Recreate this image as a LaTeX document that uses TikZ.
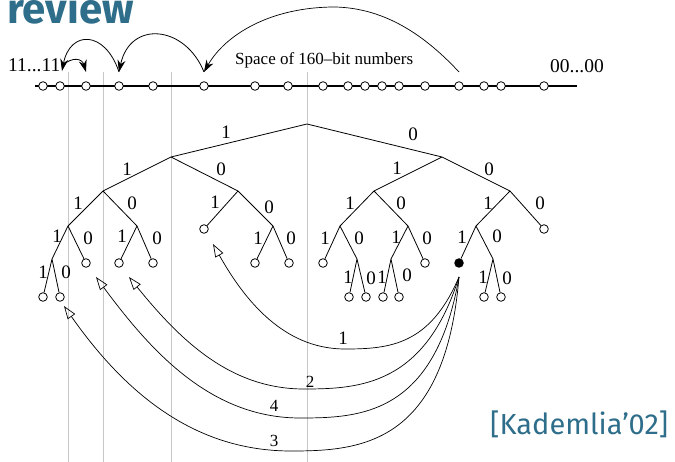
\documentclass[tikz,border=0pt]{standalone}
\usepackage{fontspec}
\setmainfont{Liberation Serif}
\newfontfamily\fira{Fira Sans}
\usetikzlibrary{arrows.meta}
\definecolor{slateteal}{RGB}{47,110,138}

\begin{document}
\begin{tikzpicture}[x=1pt,y=-1pt,
  guide/.style={draw=black!22, line width=0.8pt},
  edge/.style={draw, line width=0.8pt},
  leaf/.style={circle, draw, fill=white, inner sep=0pt, minimum size=8.6pt, line width=0.8pt},
  self/.style={circle, fill=black, inner sep=0pt, minimum size=9.5pt},
  bit/.style={font=\fontsize{19}{19}\selectfont, inner sep=0pt},
  hop/.style={line width=0.7pt, -{Triangle[open,length=13pt,width=9pt]}},
  jump/.style={line width=0.8pt, -{Stealth[length=12pt,width=8pt]}},
]
\useasboundingbox (0,0) rectangle (675,462);

% heading fragment and citation
\node[anchor=base east, inner sep=0pt, text=slateteal,
      font=\fira\bfseries\fontsize{42}{42}\selectfont] (ttl) at (134,24) {review};
\node[anchor=base west, inner sep=0pt, text=slateteal,
      font=\fira\fontsize{29}{29}\selectfont] (cite) at (490,434) {[Kademlia’02]};

% subtree boundaries
\foreach \gx in {68,103,171,307}
  \draw[guide] (\gx,72) -- (\gx,462);

% the identifier line
\coordinate (nl0) at (35,86);
\coordinate (nl1) at (577,86);
\draw[line width=1.4pt] (nl0) -- (nl1);
\foreach \px [count=\i] in {43,60,86,119,153,204,255,288,323,348,365,382,399,425,459,484,501,544}
  \node[leaf] (p\i) at (\px,86) {};

\node[anchor=base west, inner sep=0pt, font=\fontsize{19.5}{19.5}\selectfont] (ones) at (8,72) {11...11};
\node[anchor=base west, inner sep=0pt, font=\fontsize{19.5}{19.5}\selectfont] (zeros) at (550,73) {00...00};
\node[anchor=base west, inner sep=0pt, font=\fontsize{17}{17}\selectfont] (space) at (235,65) {Space of 160–bit numbers};

% lookup jumps along the line
\coordinate (ta) at (459,72);
\coordinate (tb) at (204,72);
\coordinate (tc) at (119,72);
\coordinate (td) at (62,71);
\coordinate (te) at (63,65);
\coordinate (tf) at (86,72);
\draw[jump, line width=0.7pt] (ta) .. controls (420,30) and (380,8) .. (335,7)
      .. controls (270,7) and (225,35) .. (tb);
\draw[jump] (tb) .. controls (185,25) and (130,20) .. (tc);
\draw[jump] (tc) .. controls (105,30) and (70,30) .. (td);
\draw[jump] (te) .. controls (72,57) and (82,58) .. (tf);

% binary tree
\coordinate (r) at (307,124);
\coordinate (a) at (171,157);
\coordinate (b) at (442,157);
\coordinate (aa) at (103,191);
\coordinate (ab) at (238,191);
\coordinate (ba) at (374,191);
\coordinate (bb) at (510,191);
\coordinate (aaa) at (68,226);
\coordinate (aab) at (137,226);
\node[leaf] (aba) at (204,229) {};
\coordinate (abb) at (273,226);
\coordinate (baa) at (340,226);
\coordinate (bab) at (408,226);
\coordinate (bba) at (476,226);
\node[leaf] (bbb) at (544,229) {};
\coordinate (aaaa) at (52,259);
\node[leaf] (aaab) at (86,263) {};
\node[leaf] (aaba) at (119,263) {};
\node[leaf] (aabb) at (153,263) {};
\node[leaf] (abba) at (255,263) {};
\node[leaf] (abbb) at (289,263) {};
\node[leaf] (baaa) at (323,263) {};
\coordinate (baab) at (357,259);
\coordinate (baba) at (391,259);
\node[leaf] (babb) at (425,263) {};
\node[self] (bbaa) at (459,263) {};
\coordinate (bbab) at (493,259);
\node[leaf] (aaaaa) at (43,297) {};
\node[leaf] (aaaab) at (60,297) {};
\node[leaf] (baaba) at (349,297) {};
\node[leaf] (baabb) at (366,297) {};
\node[leaf] (babaa) at (383,297) {};
\node[leaf] (babab) at (399,297) {};
\node[leaf] (bbaba) at (484,297) {};
\node[leaf] (bbabb) at (501,297) {};

\draw[edge] (r) -- (a) (r) -- (b)
  (a) -- (aa) (a) -- (ab) (b) -- (ba) (b) -- (bb)
  (aa) -- (aaa) (aa) -- (aab) (ab) -- (aba) (ab) -- (abb)
  (ba) -- (baa) (ba) -- (bab) (bb) -- (bba) (bb) -- (bbb)
  (aaa) -- (aaaa) (aaa) -- (aaab) (aab) -- (aaba) (aab) -- (aabb)
  (abb) -- (abba) (abb) -- (abbb) (baa) -- (baaa) (baa) -- (baab)
  (bab) -- (baba) (bab) -- (babb) (bba) -- (bbaa) (bba) -- (bbab)
  (aaaa) -- (aaaaa) (aaaa) -- (aaaab) (baab) -- (baaba) (baab) -- (baabb)
  (baba) -- (babaa) (baba) -- (babab) (bbab) -- (bbaba) (bbab) -- (bbabb);

% branch bits
\node[bit] (b01) at (226,132) {1};
\node[bit] (b02) at (413,134) {0};
\node[bit] (b03) at (127,169) {1};
\node[bit] (b04) at (221,169) {0};
\node[bit] (b05) at (397,168) {1};
\node[bit] (b06) at (489,169) {0};
\node[bit] (b07) at (78,203) {1};
\node[bit] (b08) at (132,203) {0};
\node[bit] (b09) at (215,202) {1};
\node[bit] (b10) at (269,207) {0};
\node[bit] (b11) at (350,203) {1};
\node[bit] (b12) at (401,203) {0};
\node[bit] (b13) at (488,203) {1};
\node[bit] (b14) at (540,203) {0};
\node[bit] (b15) at (57,236) {1};
\node[bit] (b16) at (88,238) {0};
\node[bit] (b17) at (122,236) {1};
\node[bit] (b18) at (157,238) {0};
\node[bit] (b19) at (258,238) {1};
\node[bit] (b20) at (291,238) {0};
\node[bit] (b21) at (325,238) {1};
\node[bit] (b22) at (359,238) {0};
\node[bit] (b23) at (396,237) {1};
\node[bit] (b24) at (427,238) {0};
\node[bit] (b25) at (462,237) {1};
\node[bit] (b26) at (497,236) {0};
\node[bit] (b27) at (43,272) {1};
\node[bit] (b28) at (66,272) {0};
\node[bit] (b29) at (348,277) {1};
\node[bit] (b30) at (371,278) {0};
\node[bit] (b31) at (382,277) {1};
\node[bit] (b32) at (407,275) {0};
\node[bit] (b33) at (483,277) {1};
\node[bit] (b34) at (507,278) {0};

% contacts queried from the local node
\coordinate (src) at (459,277);
\coordinate (h1) at (213,244);
\coordinate (h2) at (129,277);
\coordinate (h3) at (96,277);
\coordinate (h4) at (64,306);
\draw[hop] (src) .. controls (430,345) and (390,349) .. (345,349)
      .. controls (290,349) and (250,310) .. (h1);
\draw[hop] (src) .. controls (425,385) and (360,389) .. (304,389)
      .. controls (230,389) and (180,340) .. (h2);
\draw[hop] (src) .. controls (435,415) and (360,418) .. (300,418)
      .. controls (210,418) and (150,350) .. (h3);
\draw[hop] (src) .. controls (445,445) and (360,451) .. (291,451)
      .. controls (200,451) and (130,400) .. (h4);

\node[font=\fontsize{19}{19}\selectfont, inner sep=0pt] (q1) at (343,338) {1};
\node[font=\fontsize{17}{17}\selectfont, inner sep=0pt] (q2) at (310,382) {2};
\node[font=\fontsize{17}{17}\selectfont, inner sep=0pt] (q4) at (274,406) {4};
\node[font=\fontsize{17}{17}\selectfont, inner sep=0pt] (q3) at (274,441) {3};
\end{tikzpicture}
\end{document}
